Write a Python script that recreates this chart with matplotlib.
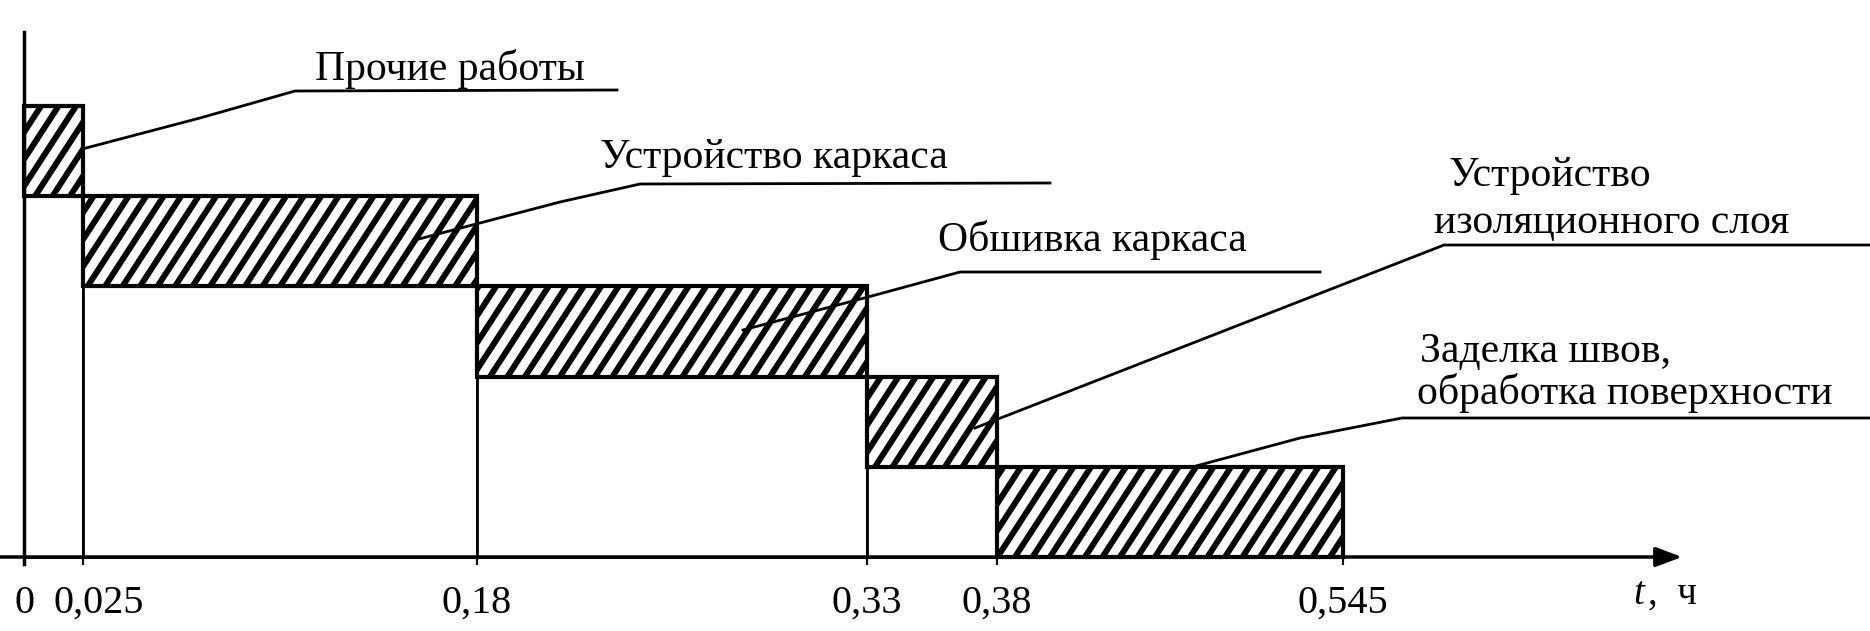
import numpy as np
import matplotlib
matplotlib.use("Agg")
import matplotlib.pyplot as plt
import matplotlib.transforms as mtransforms
from matplotlib.transforms import IdentityTransform

# ---------------- data ----------------
tasks = ["Прочие работы", "Устройство каркаса", "Обшивка каркаса",
         "Устройство\nизоляционного слоя", "Заделка швов,\nобработка поверхности"]
t_start = [0.0, 0.025, 0.18, 0.33, 0.38]
t_end = [0.025, 0.18, 0.33, 0.38, 0.545]
level = [5, 4, 3, 2, 1]          # top level of each hatched band
tick_values = [0, 0.025, 0.18, 0.33, 0.38, 0.545]
tick_labels = ["0", "0,025", "0,18", "0,33", "0,38", "0,545"]

# ---------------- layout ----------------
W, H = 1870, 631
plt.rcParams['font.family'] = ['Liberation Serif', 'DejaVu Serif']

# the original drawing is not to scale: piecewise axis mapping t -> pixel
t_knots = [-0.01017, 0.0, 0.025, 0.18, 0.33, 0.38, 0.545, 0.7963]
px_knots = [0, 24, 83, 477, 867, 997, 1343, 1870]


def fwd(t):
    return np.interp(t, t_knots, px_knots)


def inv(p):
    return np.interp(p, px_knots, t_knots)


y0_px, unit_px = 557.0, 90.2

fig = plt.figure(figsize=(W / 100, H / 100), dpi=100)
ax = fig.add_axes([0, 0, 1, 1])
ax.set_xscale('function', functions=(fwd, inv))
ax.set_xlim(t_knots[0], t_knots[-1])
ax.set_ylim(-(H - y0_px) / unit_px, y0_px / unit_px)
for s in ax.spines.values():
    s.set_visible(False)
ax.spines['bottom'].set_position(('data', 0))


def P(x, y):
    return x / W, 1 - y / H


# bars
hatch_patches = []
for i in range(len(tasks)):
    w = t_end[i] - t_start[i]
    if level[i] - 1 > 0:
        ax.bar(t_start[i], level[i] - 1, width=w, bottom=0, align='edge',
               facecolor='white', edgecolor='black', linewidth=2, zorder=2)
    bc = ax.bar(t_start[i], 1, width=w, bottom=level[i] - 1, align='edge',
                facecolor='white', edgecolor='none', linewidth=0, zorder=3)
    hatch_patches.append(bc.patches[0])

# steep diagonal hatching (like the original drawing), clipped to each bar
stripe_gap = 17.5
stripe_angle = 57
for p in hatch_patches:
    (x0, y0), (x1, y1) = ax.transData.transform(
        [[p.get_x(), p.get_y()], [p.get_x() + p.get_width(), p.get_y() + p.get_height()]])
    dx = (y1 - y0) / np.tan(np.radians(stripe_angle))
    start = np.floor((x0 - dx) / stripe_gap) * stripe_gap
    for xb in np.arange(start, x1 + stripe_gap, stripe_gap):
        ln, = ax.plot([xb, xb + dx], [y0, y1], transform=IdentityTransform(),
                      color='black', lw=4.3, solid_capstyle='butt', zorder=3.5)
        ln.set_clip_path(p)
    # outline on top of stripes
    ax.add_patch(plt.Rectangle((p.get_x(), p.get_y()), p.get_width(), p.get_height(),
                               fill=False, edgecolor='black', linewidth=3, zorder=4.5))

# axes lines
ax.annotate('', xy=(inv(1682), 0), xytext=(t_knots[0], 0),
            arrowprops=dict(arrowstyle='-|>,head_length=0.8,head_width=0.3',
                            mutation_scale=20, lw=2.5, color='black',
                            shrinkA=0, shrinkB=0),
            zorder=5)
ax.plot([0, 0], [-0.08, (y0_px - 32) / unit_px], color='black', lw=2.5, zorder=5)

ax.set_xticks(tick_values, tick_labels)
ax.tick_params(axis='x', direction='out', length=6, width=1.5, pad=14,
               labelsize=29, color='black')
ax.tick_params(axis='y', left=False, labelleft=False)
# in the original the "0,025" label sits a little to the right of its tick
lab = ax.get_xticklabels()[1]
lab.set_transform(lab.get_transform() +
                  mtransforms.ScaledTranslation(16 / 100, 0, fig.dpi_scale_trans))

# axis label
fig.text(*P(1633, 604), "t", fontsize=28, style='italic', va='baseline', ha='left')
fig.text(*P(1648, 604), ",  ч", fontsize=28, va='baseline', ha='left')

# annotations (text + leader lines)
fs = 30
lk = dict(color='black', lw=2.0, transform=fig.transFigure, zorder=6)


def leader(pts):
    xs = [q[0] / W for q in pts]
    ys = [1 - q[1] / H for q in pts]
    ax.plot(xs, ys, **lk)


fig.text(*P(315, 80), tasks[0], fontsize=fs, va='baseline', ha='left')
leader([(86, 148), (200, 118), (295, 91), (617, 90)])

fig.text(*P(600, 168), tasks[1], fontsize=fs, va='baseline', ha='left')
leader([(415, 240), (560, 202), (640, 184), (1050, 183)])

fig.text(*P(938, 251), tasks[2], fontsize=fs, va='baseline', ha='left')
leader([(743, 330), (868, 297), (960, 272), (1320, 272)])

l1, l2 = tasks[3].split("\n")
fig.text(*P(1449, 186), l1, fontsize=fs, va='baseline', ha='left')
fig.text(*P(1434, 233), l2, fontsize=fs, va='baseline', ha='left')
leader([(975, 428), (1444, 245), (1870, 245)])

l1, l2 = tasks[4].split("\n")
fig.text(*P(1420, 362), l1, fontsize=fs, va='baseline', ha='left')
fig.text(*P(1417, 404), l2, fontsize=fs, va='baseline', ha='left')
leader([(1196, 466), (1300, 438), (1402, 418), (1870, 418)])

fig.savefig("out.png", dpi=100, facecolor='white')
